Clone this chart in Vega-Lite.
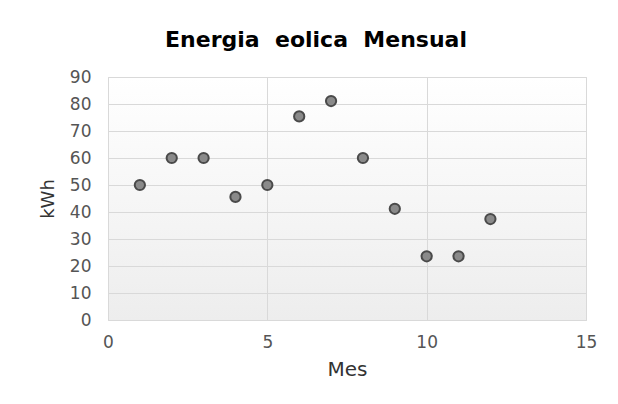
{
  "$schema": "https://vega.github.io/schema/vega-lite/v6.json",
  "width": 478,
  "height": 243,
  "autosize": "none",
  "padding": {"left": 108, "top": 77, "right": 32, "bottom": 84},
  "background": "white",
  "title": {
    "text": "Energia\u00a0 eolica\u00a0 Mensual",
    "font": "DejaVu Sans",
    "fontSize": 22,
    "fontWeight": "bold",
    "color": "#000000",
    "anchor": "middle",
    "dx": -31,
    "offset": 16
  },
  "data": {
    "values": [
      {"Mes": 1, "kWh": 50},
      {"Mes": 2, "kWh": 60},
      {"Mes": 3, "kWh": 60},
      {"Mes": 4, "kWh": 45.6},
      {"Mes": 5, "kWh": 50},
      {"Mes": 6, "kWh": 75.4},
      {"Mes": 7, "kWh": 81.1},
      {"Mes": 8, "kWh": 60},
      {"Mes": 9, "kWh": 41.2},
      {"Mes": 10, "kWh": 23.6},
      {"Mes": 11, "kWh": 23.6},
      {"Mes": 12, "kWh": 37.4}
    ]
  },
  "mark": {
    "type": "circle",
    "size": 105,
    "fill": "#8a8a8a",
    "stroke": "#4a4a4a",
    "strokeWidth": 2,
    "opacity": 1
  },
  "encoding": {
    "x": {
      "field": "Mes",
      "type": "quantitative",
      "scale": {"domain": [0, 15], "nice": false, "zero": true},
      "axis": {"values": [0, 5, 10, 15], "title": "Mes", "labelPadding": 14, "titlePadding": 9, "labelFlush": false, "titleFontSize": 20}
    },
    "y": {
      "field": "kWh",
      "type": "quantitative",
      "scale": {"domain": [0, 90], "nice": false},
      "axis": {"values": [0, 10, 20, 30, 40, 50, 60, 70, 80, 90], "title": "kWh", "labelPadding": 17, "titlePadding": 12, "labelFlush": false, "titleFontSize": 18}
    }
  },
  "config": {
    "view": {
      "stroke": "#d9d9d9",
      "strokeWidth": 1,
      "fill": {
        "gradient": "linear",
        "x1": 0, "y1": 0, "x2": 0, "y2": 1,
        "stops": [
          {"offset": 0, "color": "#ffffff"},
          {"offset": 1, "color": "#ededed"}
        ]
      }
    },
    "axis": {
      "domain": false,
      "ticks": false,
      "grid": true,
      "gridColor": "#d9d9d9",
      "gridWidth": 1,
      "labelFont": "DejaVu Sans",
      "labelFontSize": 17,
      "labelColor": "#555555",
      "titleFont": "DejaVu Sans",
      "titleFontWeight": "normal",
      "titleColor": "#333333"
    }
  }
}
